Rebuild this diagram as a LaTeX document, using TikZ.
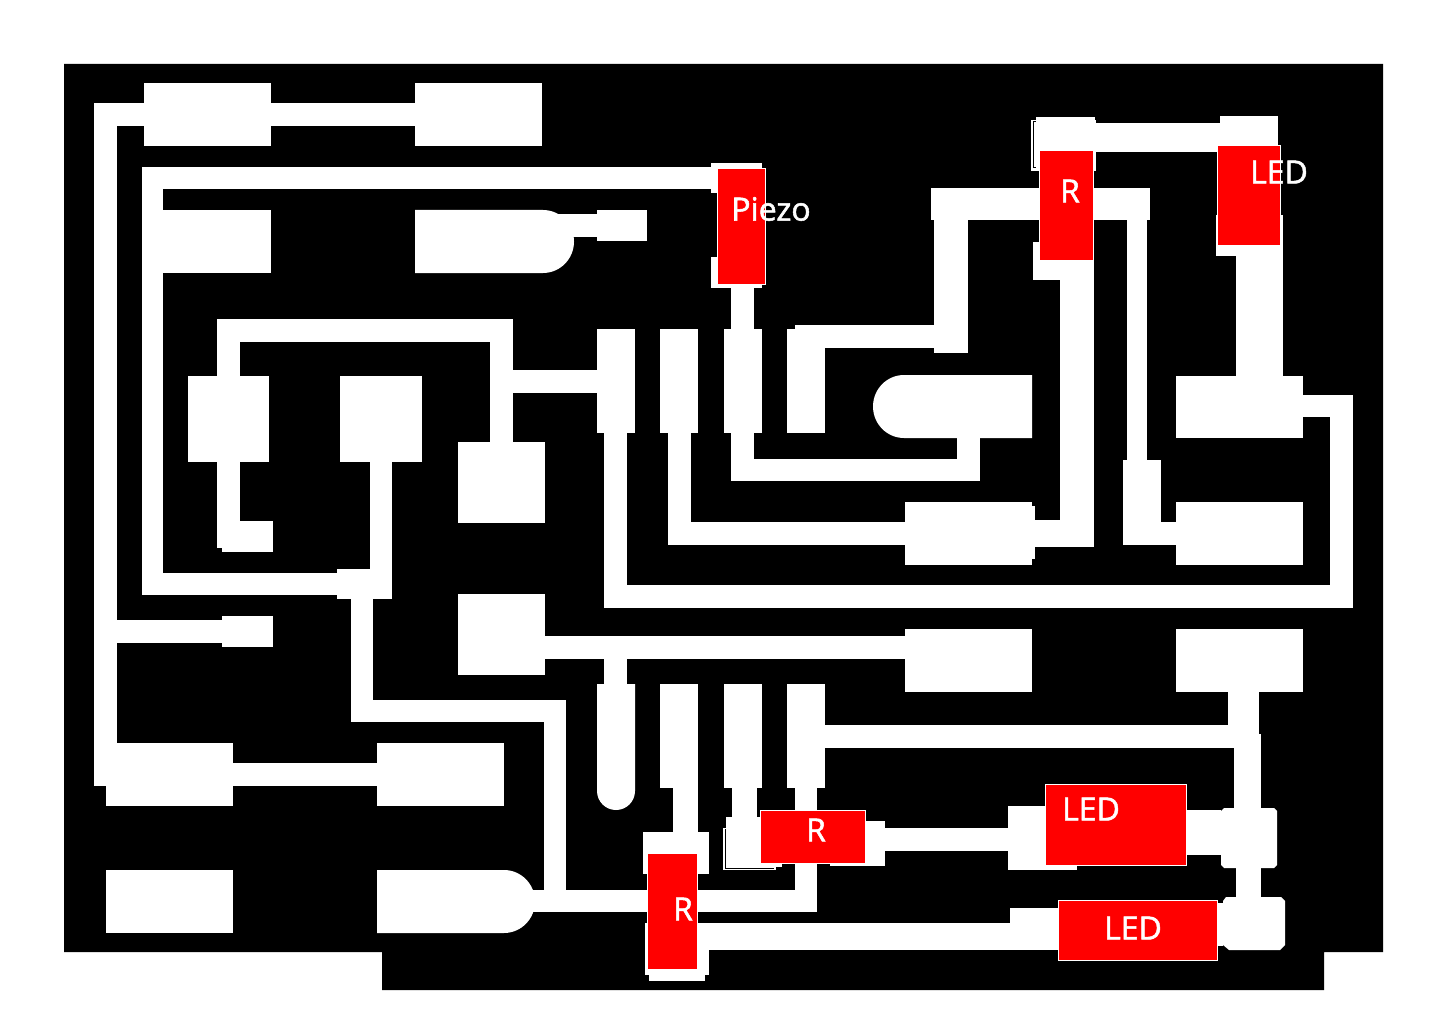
\documentclass[tikz,border=0pt]{standalone}
\usepackage{fontspec}
\newfontfamily\partfont[FakeBold=1.6]{Open Sans}
\begin{document}
\begin{tikzpicture}
[x=1pt,y=-1pt,
    board/.style={fill=black},
    copper/.style={fill=white},
    outline/.style={draw=black,line width=1pt},
    part/.style={fill=red,draw=white,line width=1pt},
    partlabel/.style={text=white,inner sep=0pt,font=\partfont\fontsize{32}{32}\selectfont}]
\useasboundingbox (0,0) rectangle (1447,1016);

% board
\fill[board] (64,64) -- (1383,64) -- (1383,952) -- (1324,952) -- (1324,990)
    -- (382,990) -- (382,952) -- (64,952) -- cycle;

% outlined pads
\fill[copper] (1031,120) rectangle (1096,171);
\draw[outline] (1040,167.5) -- (1033,167.5) -- (1033,122) -- (1040,122);
\fill[copper] (723,828) rectangle (776,870);
\draw[outline] (725,829) -- (725,868) -- (774,868);

% pads
\foreach \xa/\ya/\xb/\yb in {144/83/271/146,415/83/542/146,142/210/271/273,
    597/210/647/241,188/376/269/462,340/376/422/462,458/442/545/523,
    222/521/273/552,337/569/392/599,222/616/273/647,458/594/545/675,
    597/329/635/433,660/329/698/433,724/329/762/433,787/329/825/433,
    660/684/698/788,724/684/762/788,787/684/825/788,
    905/502/1032/565,1032/506/1035/559,1176/376/1303/438,1176/502/1303/565,
    905/629/1032/692,1176/629/1303/692,
    106/743/233/806,377/743/504/806,106/870/233/933,
    711/163/762/193,711/257/762/288,1036/117/1095/171,1033/242/1094/280,
    1220/116/1278/150,1216/215/1283/256,1123/460/1161/545,
    643/832/709/874,645/923/709/975,649/975/705/981,
    726/817/782/867,830/821/885/866,1008/806/1077/870,
    1010/908/1060/950}
    \fill[copper] (\xa,\ya) rectangle (\xb,\yb);

% chamfered pads
\fill[copper] (1224,808) -- (1274,808) -- (1277,811) -- (1277,865) -- (1274,868)
    -- (1224,868) -- (1221,865) -- (1221,811) -- cycle;
\fill[copper] (1226,897) -- (1281,897) -- (1285,901) -- (1285,945) -- (1280,950)
    -- (1229,950) -- (1223,945) -- (1223,901) -- cycle;

% round ended pads
\fill[copper] (415,210) -- (543,210) arc[start angle=-90,end angle=90,x radius=31,y radius=31.5]
    -- (415,273) -- cycle;
\fill[copper] (1032,375) -- (904,375) arc[start angle=-90,end angle=-270,x radius=31,y radius=31.5]
    -- (1032,438) -- cycle;
\fill[copper] (377,870) -- (504,870) arc[start angle=-90,end angle=90,x radius=31,y radius=31.5]
    -- (377,933) -- cycle;
\fill[copper] (597,684) -- (635,684) -- (635,791) arc[start angle=0,end angle=180,x radius=19,y radius=19]
    -- cycle;

% traces
\foreach \xa/\ya/\xb/\yb in {94/103/415/126,94/103/117/786,94/763/377/786,
    117/620/222/643,142/167/711/189,142/167/163/595,142/573/340/595,
    370/462/392/575,351/595/373/722,351/700/566/722,544/700/566/912,
    530/890/817/912,795/788/817/912,
    217/319/513/342,217/342/240/376,217/462/240/548,490/342/513/442,
    513/370/597/393,548/214/597/237,
    604/433/627/608,604/585/1353/608,1330/395/1353/608,1303/395/1353/417,
    668/433/691/545,668/522/905/545,
    731/288/754/329,731/433/754/481,731/459/980/481,957/438/980/481,
    1035/520/1094/547,1060/280/1094/547,
    1095/123/1220/152,931/188/1150/220,934/220/968/353,795/325/968/348,
    1127/220/1147/460,1161/522/1176/545,1236/256/1283/376,
    545/636/905/659,604/659/627/684,
    673/788/698/832,732/788/757/817,795/788/817/810,
    825/725/1240/748,1228/692/1259/734,1234/734/1261/808,
    885/828/1008/851,1186/810/1221/855,1236/868/1261/897,
    709/923/1010/950,1217/903/1223/946}
    \fill[copper] (\xa,\ya) rectangle (\xb,\yb);

% parts
\fill[part] (717.5,169) rectangle (765.5,284);
\fill[part] (1039.5,151) rectangle (1093.5,260);
\fill[part] (1217.5,145.5) rectangle (1280.5,245.5);
\fill[part] (760.5,810.5) rectangle (865.5,863.5);
\fill[part] (1045.5,784.5) rectangle (1186.5,865.5);
\fill[part] (1058.5,900.5) rectangle (1217.5,960.5);
\fill[part] (647.5,853) rectangle (697.5,969);

\node[partlabel] (piezo) at (771,209) {Piezo};
\node[partlabel] (rtop) at (1070,191) {R};
\node[partlabel] (ledtop) at (1279,172) {LED};
\node[partlabel] (ledmid) at (1091,809) {LED};
\node[partlabel] (rmid) at (816,830) {R};
\node[partlabel] (ledlow) at (1133,928) {LED};
\node[partlabel] (rlow) at (683,909) {R};
\end{tikzpicture}
\end{document}
